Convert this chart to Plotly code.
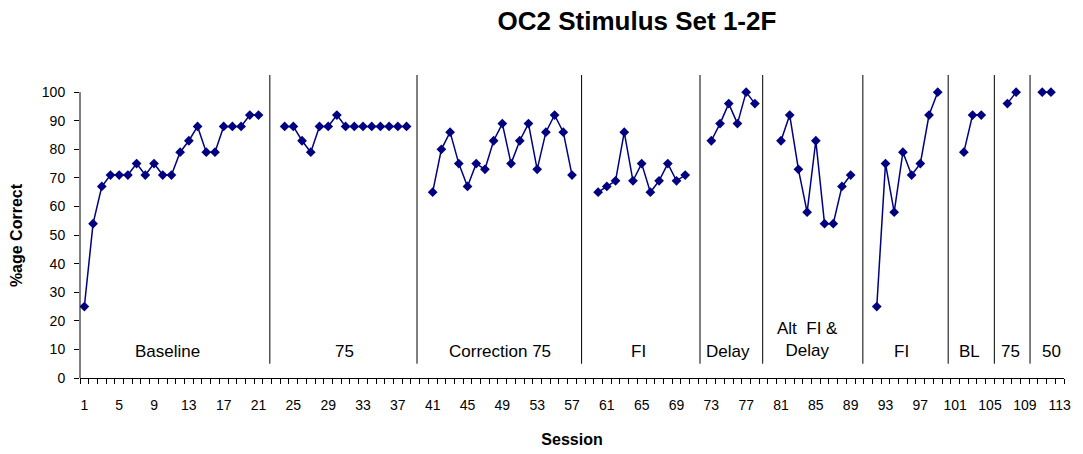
import plotly.graph_objects as go

# ---- data ----
baseline_sessions = list(range(1, 22))
baseline_values = [25, 54, 67, 71, 71, 71, 75, 71, 75, 71, 71, 79, 83, 88, 79, 79, 88, 88, 88, 92, 92]

p75_sessions = list(range(24, 39))
p75_values = [88, 88, 83, 79, 88, 88, 92, 88, 88, 88, 88, 88, 88, 88, 88]

corr75_sessions = list(range(41, 58))
corr75_values = [65, 80, 86, 75, 67, 75, 73, 83, 89, 75, 83, 89, 73, 86, 92, 86, 71]

fi1_sessions = list(range(60, 71))
fi1_values = [65, 67, 69, 86, 69, 75, 65, 69, 75, 69, 71]

delay_sessions = list(range(73, 79))
delay_values = [83, 89, 96, 89, 100, 96]

alt_sessions = list(range(81, 90))
alt_values = [83, 92, 73, 58, 83, 54, 54, 67, 71]

fi2_sessions = list(range(92, 100))
fi2_values = [25, 75, 58, 79, 71, 75, 92, 100]

bl_sessions = [102, 103, 104]
bl_values = [79, 92, 92]

p75b_sessions = [107, 108]
p75b_values = [96, 100]

p50_sessions = [111, 112]
p50_values = [100, 100]

phase_breaks = [22.3, 39.2, 58.1, 71.7, 78.9, 90.4, 100.2, 105.5, 109.6]
phase_labels = ["Baseline", "75", "Correction 75", "FI", "Delay", "Alt  FI &<br>Delay", "FI", "BL", "75", "50"]
phase_label_x = [10.6, 30.9, 48.7, 64.6, 74.9, 84.1, 94.8, 102.6, 107.3, 112.1]

x_tick_labels = [str(v) for v in range(1, 114, 4)]
y_ticks = [0, 10, 20, 30, 40, 50, 60, 70, 80, 90, 100]

phases = [
    (baseline_sessions, baseline_values),
    (p75_sessions, p75_values),
    (corr75_sessions, corr75_values),
    (fi1_sessions, fi1_values),
    (delay_sessions, delay_values),
    (alt_sessions, alt_values),
    (fi2_sessions, fi2_values),
    (bl_sessions, bl_values),
    (p75b_sessions, p75b_values),
    (p50_sessions, p50_values),
]

xs, ys = [], []
for s, v in phases:
    xs += s + [None]
    ys += v + [None]

FONT = "Liberation Sans, Arial, sans-serif"
NAVY = "#000080"

fig = go.Figure()
fig.add_trace(go.Scatter(
    x=xs, y=ys, mode="lines+markers", connectgaps=False,
    line=dict(color=NAVY, width=1.5),
    marker=dict(symbol="diamond", size=7.5, color=NAVY, line=dict(width=0)),
    showlegend=False, hoverinfo="x+y",
))

shapes = []
# y axis line only from 0 to 100
shapes.append(dict(type="line", xref="paper", yref="y", x0=0, x1=0, y0=0, y1=100,
                   line=dict(color="black", width=1)))
for b in phase_breaks:
    shapes.append(dict(type="line", xref="x", yref="y", x0=b, x1=b, y0=5, y1=106,
                       line=dict(color="black", width=1)))

annotations = []
for txt, xv in zip(phase_labels, phase_label_x):
    two_line = "<br>" in txt
    annotations.append(dict(
        x=xv, y=13.3 if two_line else 9.1, xref="x", yref="y", text=txt,
        showarrow=False, xanchor="center", yanchor="middle",
        font=dict(family=FONT, size=17, color="black"),
    ))
annotations.append(dict(
    x=-0.065, y=50, xref="paper", yref="y", text="<b>%age Correct</b>",
    textangle=-90, showarrow=False, xanchor="center", yanchor="middle",
    font=dict(family=FONT, size=16, color="black"),
))

fig.update_layout(
    width=1083, height=454,
    margin=dict(l=80, r=19, t=75, b=76),
    paper_bgcolor="white", plot_bgcolor="white",
    title=dict(text="<b>OC2 Stimulus Set 1-2F</b>", x=0.566, xref="paper",
               y=1 - 21 / 454, yref="container", xanchor="center", yanchor="middle",
               font=dict(family=FONT, size=26, color="black")),
    font=dict(family=FONT, color="black"),
    shapes=shapes, annotations=annotations,
)

fig.update_xaxes(
    range=[0.5, 113.5], tickmode="array",
    tickvals=list(range(1, 114, 4)), ticktext=x_tick_labels,
    ticks="", showgrid=False, zeroline=False,
    showline=True, linecolor="black", linewidth=1,
    tickfont=dict(family=FONT, size=14, color="black"),
    ticklabelstandoff=14,
    minor=dict(tickmode="array", tickvals=[i + 0.5 for i in range(0, 114)],
               ticks="outside", ticklen=5, tickcolor="black", tickwidth=1, showgrid=False),
    title=dict(text="<b>Session</b>", standoff=22,
               font=dict(family=FONT, size=16, color="black")),
    automargin=False,
)
fig.update_yaxes(
    range=[0, 106], tickmode="array", tickvals=y_ticks,
    ticks="outside", ticklen=5, tickcolor="black",
    showgrid=False, zeroline=False, showline=False,
    tickfont=dict(family=FONT, size=14, color="black"),
    ticklabelstandoff=6, automargin=False,
)

fig.write_html(
    "out.html",
    config={"displayModeBar": False},
    post_script="document.body.style.margin='0';document.body.style.overflow='hidden';",
)
